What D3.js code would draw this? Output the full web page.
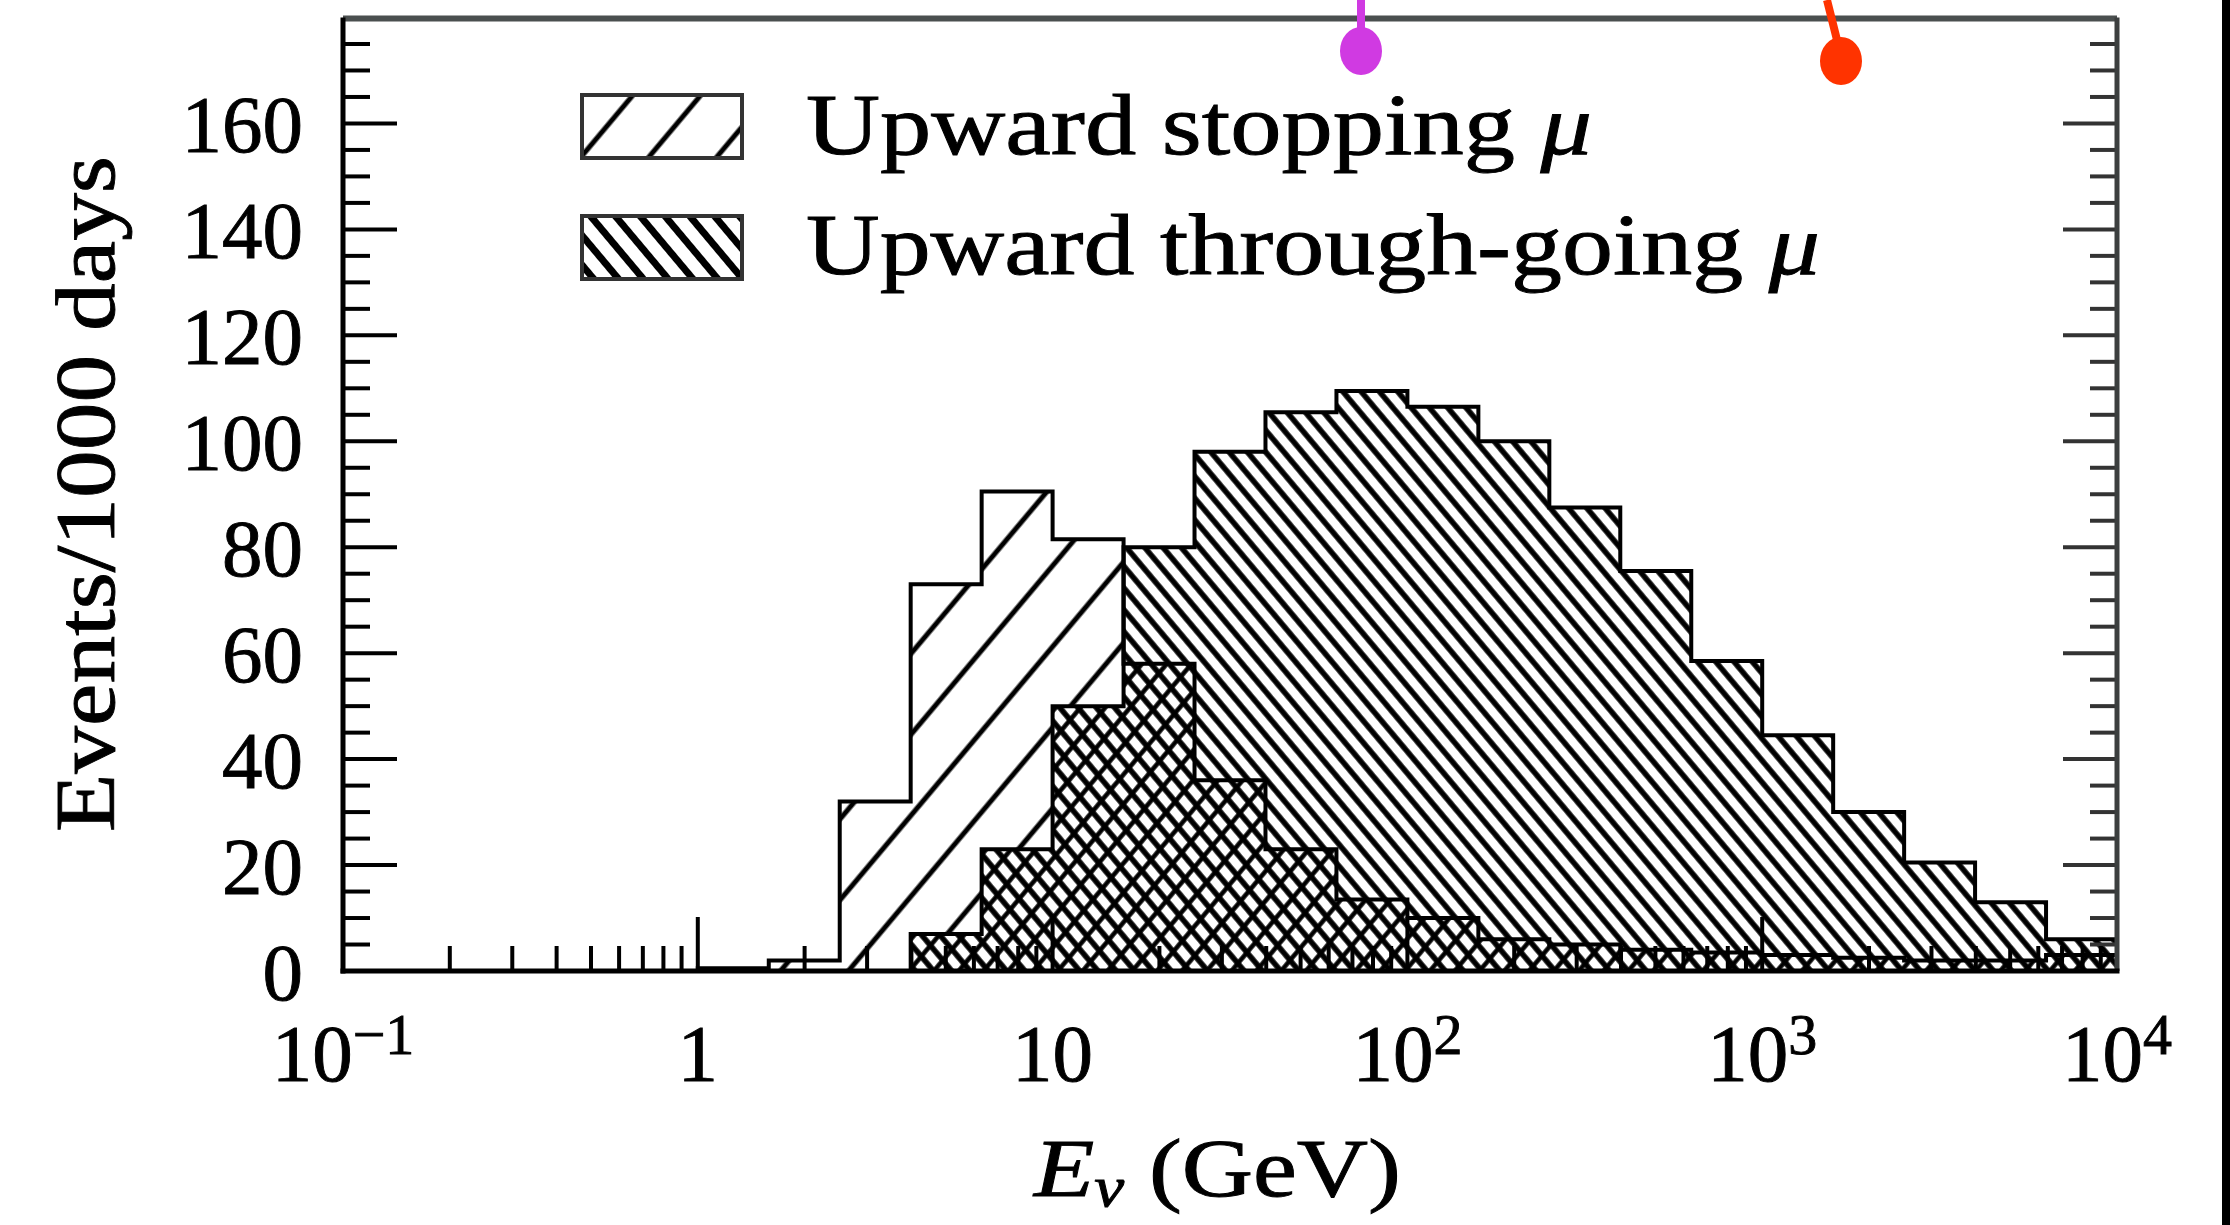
<!DOCTYPE html>
<html>
<head>
<meta charset="utf-8">
<script src="https://cdn.jsdelivr.net/npm/d3@7"></script>
<style>
  html, body { margin: 0; padding: 0; background: #fff; }
  svg { display: block; }
</style>
</head>
<body>
<svg id="chart" width="2230" height="1225"></svg>
<script>
// Neutrino energy bins (GeV), 0.2 decade wide, from 1 GeV to 10^4 GeV
const binEdges = [1, 1.585, 2.512, 3.981, 6.310, 10, 15.85, 25.12, 39.81, 63.10,
                  100, 158.5, 251.2, 398.1, 631.0, 1000, 1585, 2512, 3981, 6310, 10000];

// Events per 1000 days in each bin
const stoppingMu = [0.5, 2, 32, 73, 90.5, 81.5, 58, 36, 23, 13.5,
                    10, 6, 5, 4, 3.5, 3, 2.5, 2, 2, 3];
const throughGoingMu = [0, 0, 0, 7, 23, 50, 80, 98, 105.5, 109.5,
                        106.5, 100, 87.5, 75.5, 58.5, 44.5, 30, 20.5, 13, 6];

const seriesNames = ["Upward stopping ", "Upward through-going "];

// Axis ticks
const yTickValues = [0, 20, 40, 60, 80, 100, 120, 140, 160];
const xTickValues = [0.1, 1, 10, 100, 1000, 10000];
const xTickLabels = [["10", "\u22121"], ["1", ""], ["10", ""], ["10", "2"], ["10", "3"], ["10", "4"]];

const svg = d3.select("#chart");
const W = 2230, H = 1225;
const FONT = "'Liberation Serif', 'Times New Roman', serif";

const x = d3.scaleLog().domain([0.1, 1e4]).range([343, 2117]);
const y = d3.scaleLinear().domain([0, 180]).range([971, 17.5]);

svg.append("rect").attr("width", W).attr("height", H).attr("fill", "#fff");

// ---- hatch patterns ----
const defs = svg.append("defs");
function hatch(id, spacing, angle, width, bg) {
  const p = defs.append("pattern")
    .attr("id", id)
    .attr("patternUnits", "userSpaceOnUse")
    .attr("width", spacing).attr("height", 20)
    .attr("patternTransform", `rotate(${angle})`);
  if (bg) p.append("rect").attr("width", spacing).attr("height", 20).attr("fill", bg);
  p.append("line")
    .attr("x1", spacing / 2).attr("y1", -2)
    .attr("x2", spacing / 2).attr("y2", 22)
    .attr("stroke", "#000").attr("stroke-width", width);
}
hatch("backDense", 14, -40, 5.5, "#fff");   // "\\\" through-going
hatch("fwdWide", 52, 40, 5, "#fff");        // "///" stopping
hatch("fwdDense", 19, 40, 4.5, null);       // "///" overlay for the overlap
hatch("backKey", 19, -40, 7, "#fff");       // "\\\" in the legend swatch

// ---- histogram geometry ----
function stepPoints(vals) {
  const pts = [[x(binEdges[0]), y(0)]];
  vals.forEach((v, i) => {
    pts.push([x(binEdges[i]), y(v)], [x(binEdges[i + 1]), y(v)]);
  });
  pts.push([x(binEdges[binEdges.length - 1]), y(0)]);
  return pts;
}
const stepArea = vals => d3.line()(stepPoints(vals)) + "Z";
const stepOutline = vals => d3.line()(stepPoints(vals));
const overlap = stoppingMu.map((v, i) => Math.min(v, throughGoingMu[i]));

const plot = svg.append("g");
plot.append("path").attr("d", stepArea(throughGoingMu)).attr("fill", "url(#backDense)");
plot.append("path").attr("d", stepArea(stoppingMu)).attr("fill", "url(#fwdWide)");
plot.append("path").attr("d", stepArea(overlap)).attr("fill", "url(#backDense)");
plot.append("path").attr("d", stepArea(overlap)).attr("fill", "url(#fwdDense)");
[throughGoingMu, stoppingMu].forEach(vals => {
  plot.append("path").attr("d", stepOutline(vals))
    .attr("fill", "none").attr("stroke", "#000")
    .attr("stroke-width", 4).attr("stroke-linejoin", "miter");
});

// ---- axes ----
const x0 = x.range()[0], x1 = x.range()[1];
const yb = y(0), yt = y.range()[1];

// y ticks (left and mirrored right), minor every 5
const yMinor = d3.range(0, 181, 5);
const axisG = svg.append("g").attr("stroke", "#000").attr("stroke-width", 4);
yMinor.forEach(v => {
  const major = v % 20 === 0;
  const len = major ? 54 : 27;
  if (v === 0 || v === 180) return;
  axisG.append("line").attr("x1", x0).attr("x2", x0 + len).attr("y1", y(v)).attr("y2", y(v));
  axisG.append("line").attr("x1", x1).attr("x2", x1 - len).attr("y1", y(v)).attr("y2", y(v))
    .attr("stroke", "#333");
});

// x ticks: decades and 2..9 minors, pointing up from the bottom
const xMinor = [];
[0.1, 1, 10, 100, 1000].forEach(d => {
  for (let k = 2; k <= 9; k++) xMinor.push(d * k);
});
xMinor.forEach(v => {
  axisG.append("line").attr("x1", x(v)).attr("x2", x(v)).attr("y1", yb).attr("y2", yb - 25);
});
xTickValues.forEach(v => {
  axisG.append("line").attr("x1", x(v)).attr("x2", x(v)).attr("y1", yb).attr("y2", yb - 54);
});

// frame
svg.append("line").attr("x1", x0).attr("x2", x1).attr("y1", yt + 1).attr("y2", yt + 1)
  .attr("stroke", "#4a4f4f").attr("stroke-width", 6);
svg.append("line").attr("x1", x1).attr("x2", x1).attr("y1", yt).attr("y2", yb)
  .attr("stroke", "#3c3f3f").attr("stroke-width", 5);
svg.append("line").attr("x1", x0).attr("x2", x0).attr("y1", yt).attr("y2", yb + 2.5)
  .attr("stroke", "#000").attr("stroke-width", 5);
svg.append("line").attr("x1", x0 - 2.5).attr("x2", x1 + 2.5).attr("y1", yb).attr("y2", yb)
  .attr("stroke", "#000").attr("stroke-width", 5);

// text is given a hairline stroke for a heavier book-face look
const labels = svg.append("g").attr("font-family", FONT).attr("fill", "#000")
  .attr("stroke", "#000").attr("stroke-width", 0.9);

// y tick labels
yTickValues.forEach(v => {
  labels.append("text").attr("x", 303).attr("y", y(v) + 29)
    .attr("text-anchor", "end").attr("font-size", 81).text(v);
});

// x tick labels
xTickValues.forEach((v, i) => {
  const [base, exp] = xTickLabels[i];
  const t = labels.append("text").attr("x", x(v)).attr("y", 1081)
    .attr("text-anchor", "middle").attr("font-size", 81);
  t.append("tspan").text(base);
  if (exp) t.append("tspan").attr("font-size", 58).attr("dy", -27).text(exp);
});

// axis titles
labels.append("text")
  .attr("transform", "translate(114,494) rotate(-90)")
  .attr("text-anchor", "middle").attr("font-size", 84)
  .attr("textLength", 676).attr("lengthAdjust", "spacingAndGlyphs")
  .text("Events/1000 days");

const xt = labels.append("text").attr("x", 1034).attr("y", 1196).attr("font-size", 82)
  .attr("textLength", 367).attr("lengthAdjust", "spacingAndGlyphs");
xt.append("tspan").attr("font-style", "italic").text("E");
xt.append("tspan").attr("font-style", "italic").attr("font-size", 56).attr("dy", 10).text("\u03bd");
xt.append("tspan").attr("dy", -10).text(" (GeV)");

// legend
const legend = svg.append("g");
const legendRows = [
  { name: seriesNames[0], fill: "url(#fwdWide)", y: 95, base: 154, len: 786 },
  { name: seriesNames[1], fill: "url(#backKey)", y: 216, base: 274, len: 1014 }
];
legendRows.forEach(r => {
  legend.append("rect").attr("x", 582).attr("y", r.y).attr("width", 160).attr("height", 63)
    .attr("fill", r.fill).attr("stroke", "#333").attr("stroke-width", 4);
  const t = legend.append("text").attr("x", 806).attr("y", r.base)
    .attr("font-family", FONT).attr("font-size", 86)
    .attr("stroke", "#000").attr("stroke-width", 0.9)
    .attr("textLength", r.len).attr("lengthAdjust", "spacingAndGlyphs");
  t.append("tspan").text(r.name);
  t.append("tspan").attr("font-style", "italic").text("\u03bc");
});

// marker pins along the top edge
const pins = svg.append("g");
pins.append("line").attr("x1", 1361).attr("y1", 0).attr("x2", 1361).attr("y2", 38)
  .attr("stroke", "#d03ae2").attr("stroke-width", 8);
pins.append("ellipse").attr("cx", 1361).attr("cy", 51).attr("rx", 21).attr("ry", 24).attr("fill", "#d03ae2");
pins.append("line").attr("x1", 1827).attr("y1", 0).attr("x2", 1839).attr("y2", 48)
  .attr("stroke", "#ff3300").attr("stroke-width", 8);
pins.append("ellipse").attr("cx", 1841).attr("cy", 61).attr("rx", 21).attr("ry", 24).attr("fill", "#ff3300");

// dark strip on the right edge
svg.append("rect").attr("x", 2222).attr("y", 0).attr("width", 8).attr("height", H).attr("fill", "#000");
</script>
</body>
</html>
